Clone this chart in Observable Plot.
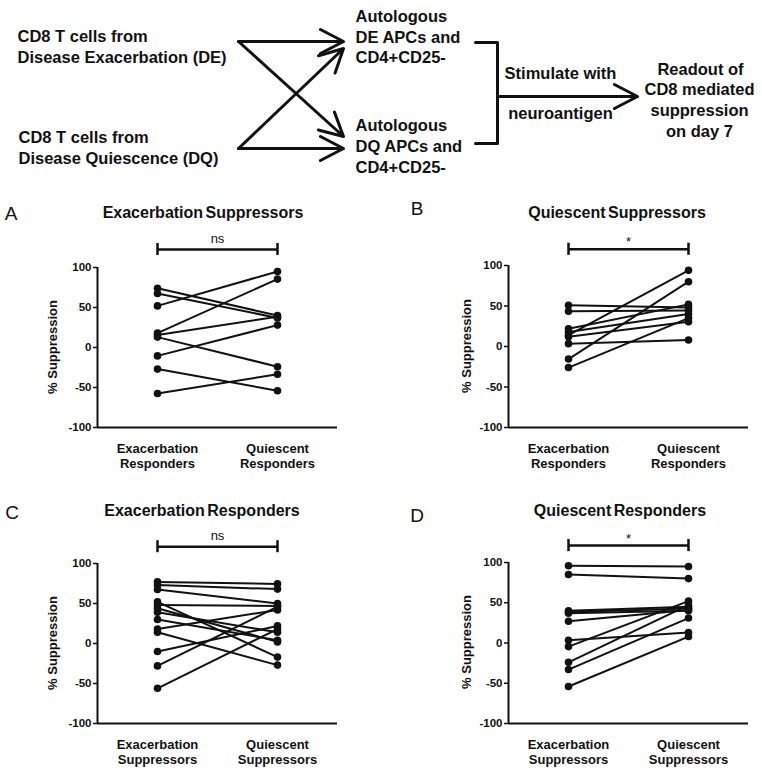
<!DOCTYPE html>
<html><head><meta charset="utf-8">
<script src="https://cdn.jsdelivr.net/npm/d3@7"></script>
<script src="https://cdn.jsdelivr.net/npm/@observablehq/plot@0.6"></script>
<style>
body{margin:0;background:#fff;font-family:"Liberation Sans",Arial,sans-serif;color:#111;}
#fig{position:relative;width:762px;height:774px;overflow:hidden;}
.abs{position:absolute;white-space:nowrap;}
.abs svg{max-width:none !important;}
.title{font-weight:bold;font-size:16px;transform:translate(-50%,-50%);word-spacing:-2px;}
.letter{font-size:19px;transform:translate(-50%,-50%);}
.ylab{font-weight:bold;font-size:13px;transform:translate(-50%,-50%) rotate(-90deg);}
</style></head><body><div id="fig"></div>
<script>
// ---------- data ----------
const categoriesResponders = ["Exacerbation Responders", "Quiescent Responders"];
const categoriesSuppressors = ["Exacerbation Suppressors", "Quiescent Suppressors"];
const panelTitles = ["Exacerbation Suppressors", "Quiescent Suppressors", "Exacerbation Responders", "Quiescent Responders"];
const panelLetters = ["A", "B", "C", "D"];
const significance = ["ns", "*", "ns", "*"];
const yTicks = [-100, -50, 0, 50, 100];
const yLabel = "% Suppression";

const aExacerbation = [74, 67.5, 52, 18, 15.5, 13, -10.5, -27, -57.5];
const aQuiescent    = [40, 37, 95, 85.5, 38.5, -24, 28, -54, -33.5];

const bExacerbation = [51, 43.5, 22, 18, 14, 12, 3.5, -15.5, -26];
const bQuiescent    = [48, 44.5, 52, 40, 94, 30.5, 8, 80, 35];

const cExacerbation = [77, 73, 67.5, 52, 48, 44, 39, 30, 18, 14, -10, -28, -56];
const cQuiescent    = [74.5, 68, 50, -17, 47, 2, 14, 4, 42, -27, 22, 46, 18];

const dExacerbation = [96, 85, 40, 38.5, 37, 27, 3.5, -4.5, -24, -33, -54];
const dQuiescent    = [95, 80, 45, 43, 40, 41, 13, 52, 47, 31, 8];

const diagramTexts = [
  "CD8 T cells from", "Disease Exacerbation (DE)",
  "CD8 T cells from", "Disease Quiescence (DQ)",
  "Autologous", "DE APCs and", "CD4+CD25-",
  "Autologous", "DQ APCs and", "CD4+CD25-",
  "Stimulate with", "neuroantigen",
  "Readout of", "CD8 mediated", "suppression", "on day 7"
];

// ---------- layout ----------
const FONT = "Liberation Sans, Arial, sans-serif";
const fig = document.getElementById("fig");
function place(node, left, top, width) {
  const w = document.createElement("div");
  w.className = "abs"; w.style.left = left + "px"; w.style.top = top + "px";
  w.style.width = width + "px";
  w.appendChild(node); fig.appendChild(w);
}
function label(text, cls, x, y) {
  const d = document.createElement("div");
  d.className = "abs " + cls; d.textContent = text;
  d.style.left = x + "px"; d.style.top = y + "px";
  fig.appendChild(d);
}

// diagram layout (pixel positions of the schematic)
const textPos = [
  [17,36,"start"],[17,57,"start"],[18,137,"start"],[18,158,"start"],
  [355,16,"start"],[355,37,"start"],[355,57,"start"],
  [355,125,"start"],[355,146,"start"],[355,167,"start"],
  [560,73,"middle"],[560,113,"middle"],
  [700,69,"middle"],[699,89,"middle"],[699,110,"middle"],[699,131,"middle"]
];
const arrowPos = [
  [238,41,343,41],[238,148,343,148],[238,41,343,136],[238,148,343,48],[497,96,637,96]
];
const bracketPos = [[475,42],[497,42],[497,143],[475,143]];

const textRows = diagramTexts.map((t, i) => ({t, x: textPos[i][0], y: textPos[i][1], a: textPos[i][2]}));
const diagram = Plot.plot({
  width: 762, height: 190, margin: 0,
  x: {domain: [0, 762], range: [0, 762], axis: null},
  y: {domain: [0, 190], range: [0, 190], axis: null},
  style: {fontFamily: FONT, background: "transparent"},
  marks: [
    Plot.arrow(arrowPos, {x1: d => d[0], y1: d => d[1], x2: d => d[2], y2: d => d[3],
      stroke: "#111", strokeWidth: 3, headLength: 13, headAngle: 55}),
    Plot.line(bracketPos, {x: d => d[0], y: d => d[1], stroke: "#111", strokeWidth: 3}),
    Plot.text(textRows.filter(d => d.a === "start"),
      {x: "x", y: "y", text: "t", textAnchor: "start", fontSize: 16.5, fontWeight: "bold", fill: "#111"}),
    Plot.text(textRows.filter(d => d.a === "middle"),
      {x: "x", y: "y", text: "t", textAnchor: "middle", fontSize: 16.5, fontWeight: "bold", fill: "#111"})
  ]
});
place(diagram, 0, 0, 762);

function panel(ex, qu, cats, sig, o) {
  const rows = ex.flatMap((v, i) => [
    {pair: i, group: cats[0], value: v},
    {pair: i, group: cats[1], value: qu[i]}
  ]);
  return Plot.plot({
    width: o.width, height: o.height,
    marginLeft: 97, marginRight: o.width - 97 - 240, marginTop: o.mt, marginBottom: o.height - o.mt - o.span,
    style: {fontFamily: FONT, fontWeight: "bold", color: "#111", background: "transparent", overflow: "visible"},
    x: {type: "point", domain: cats, padding: 0.5},
    y: {domain: [-100, 100]},
    marks: [
      Plot.axisY({ticks: yTicks, tickSize: 4, tickPadding: 2, fontSize: 11.5, label: null,
        tickFormat: d => String(d), strokeWidth: 1.5}),
      Plot.axisX({tickSize: 0, tickPadding: 14, fontSize: 13, label: null, lineHeight: 1.2,
        tickFormat: d => d.replace(" ", "\n")}),
      Plot.ruleX([cats[0]], {x: d => d, y1: -100, y2: 100, dx: -60, stroke: "#111", strokeWidth: 2}),
      Plot.ruleY([-100], {stroke: "#111", strokeWidth: 2}),
      Plot.line(rows, {x: "group", y: "value", z: "pair", stroke: "#111", strokeWidth: 2}),
      Plot.dot(rows, {x: "group", y: "value", r: 3.8, fill: "#111", stroke: "none"}),
      Plot.link([0], {x1: () => cats[0], x2: () => cats[1], y1: () => o.barY, y2: () => o.barY, stroke: "#111", strokeWidth: 2.5}),
      Plot.ruleX(cats, {x: d => d, y1: o.barY - 7.5, y2: o.barY + 7.5, stroke: "#111", strokeWidth: 2.5}),
      Plot.text([sig], {frameAnchor: "middle", y: () => o.textY, text: d => d, fontSize: 13, fontWeight: "normal", fill: "#111"})
    ]
  });
}

const panels = [
  {ex: aExacerbation, qu: aQuiescent, cats: categoriesResponders, left: 0, top: 190, width: 370, height: 290, mt: 77, span: 160, barY: 122.5, textY: 136},
  {ex: bExacerbation, qu: bQuiescent, cats: categoriesResponders, left: 411, top: 190, width: 351, height: 290, mt: 75, span: 162, barY: 120, textY: 129},
  {ex: cExacerbation, qu: cQuiescent, cats: categoriesSuppressors, left: 0, top: 490, width: 370, height: 284, mt: 73, span: 160, barY: 121, textY: 135},
  {ex: dExacerbation, qu: dQuiescent, cats: categoriesSuppressors, left: 411, top: 490, width: 351, height: 284, mt: 72, span: 161, barY: 121, textY: 130}
];
panels.forEach((p, i) => place(panel(p.ex, p.qu, p.cats, significance[i], p), p.left, p.top, p.width));

const titlePos = [[203,213],[617,213],[202,511],[620,511]];
const letterPos = [[11,214],[417,209],[12,513],[417,516]];
const ylabPos = [[52,347],[466,346],[52,643],[466,642]];
panelTitles.forEach((t, i) => label(t, "title", titlePos[i][0], titlePos[i][1]));
panelLetters.forEach((t, i) => label(t, "letter", letterPos[i][0], letterPos[i][1]));
ylabPos.forEach(p => label(yLabel, "ylab", p[0], p[1]));
</script>
</body></html>
